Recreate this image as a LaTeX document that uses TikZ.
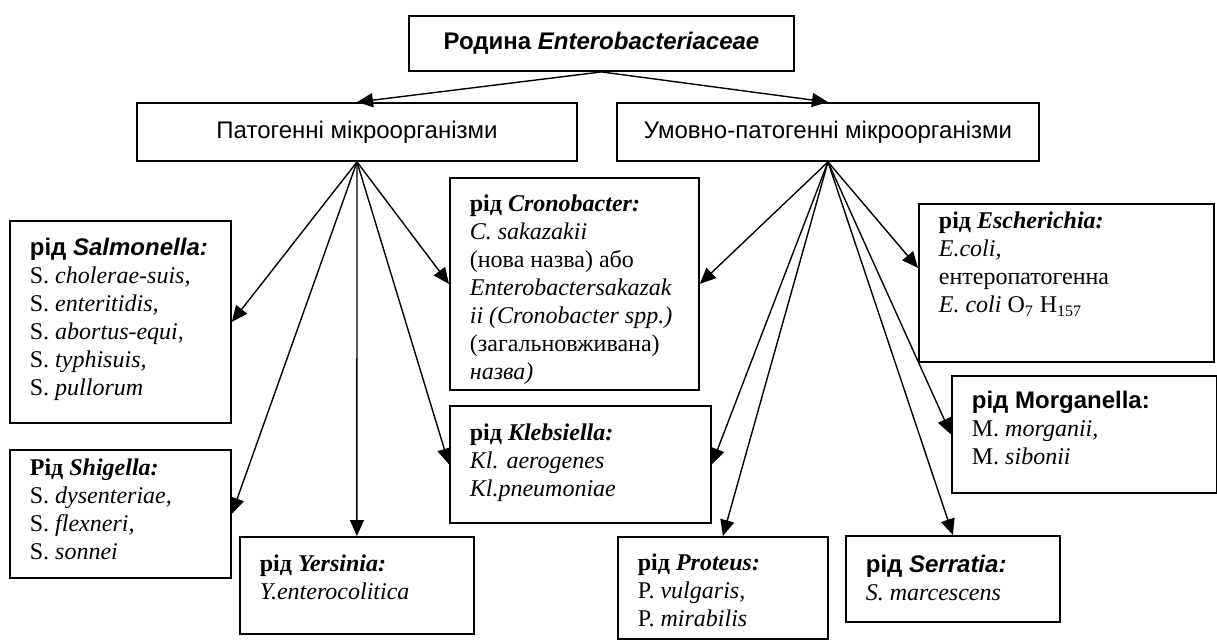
\documentclass[tikz,border=0pt]{standalone}
\usepackage{fontspec}
\setmainfont{Liberation Serif}
\setsansfont{Liberation Sans}
\usepackage{tikz}
\usetikzlibrary{arrows.meta}
\usetikzlibrary{positioning}
\newcommand{\gbox}[6][8.5pt]{\node(#2)[genus] at (#3) {\parbox[c][#5][t]{#4}{\vspace*{#1}\raggedright\leftskip=10pt\relax #6}}}

\begin{document}
\begin{tikzpicture}[
        x=0.5pt, y=-0.5pt,
        every node/.style={font=\fontsize{12}{14}\selectfont},
        group/.style={rectangle,draw=black,line width=0.9pt,inner sep=0pt,
                      minimum height=29pt,font=\sffamily\fontsize{12}{14}\selectfont},
        genus/.style={rectangle,draw=black,line width=0.9pt,inner sep=0pt,anchor=north west},
        link/.style={-{Triangle[length=8pt,width=7pt]},line width=0.7pt}
      ]
      \useasboundingbox (0,0) rectangle (1217,639);
      \node(fam)[group,minimum width=192.5pt,minimum height=27.5pt] at (601.5,43.5) {\bfseries Родина \textit{Enterobacteriaceae}};
      \node(path)[group,minimum width=220pt] at (357,132) {Патогенні мікроорганізми};
      \node(cond)[group,minimum width=211pt] at (828,132) {Умовно-патогенні мікроорганізми};

      \gbox{salm}{9,220}{110.5pt}{101pt}{{\sffamily\bfseries рід \textit{Salmonella:}}\\ S. \textit{cholerae-suis,}\\ S. \textit{enteritidis,}\\ S. \textit{abortus-equi,}\\ S. \textit{typhisuis,}\\ S. \textit{pullorum}};
      \gbox[4.5pt]{shig}{9,449}{110.5pt}{64pt}{{\bfseries Рід \textit{Shigella:}}\\ S. \textit{dysenteriae,}\\ S. \textit{flexneri,}\\ S. \textit{sonnei}};
      \gbox[9pt]{yers}{239,536}{117pt}{48.5pt}{{\bfseries рід \textit{Yersinia:}}\\ \textit{Y.enterocolitica}};
      \gbox{cron}{449,177}{124.5pt}{106pt}{{\bfseries рід \textit{Cronobacter:}}\\ \textit{C. sakazakii}\\ (нова назва) або\\ \textit{Enterobactersakazak}\\ \textit{ii (Cronobacter spp.)}\\ (загальновживана)\\ \textit{назва)}};
      \gbox[9pt]{kleb}{449,405}{130.5pt}{58.5pt}{{\bfseries рід \textit{Klebsiella:}}\\ \textit{Kl. aerogenes}\\ \textit{Kl.pneumoniae}};
      \gbox[4pt]{esch}{918,203}{147.5pt}{79pt}{{\bfseries рід \textit{Escherichia:}}\\ \textit{E.coli,}\\ ентеропатогенна\\ \textit{E. coli} O\textsubscript{7} H\textsubscript{157}};
      \gbox[7.5pt]{morg}{951,375}{132.5pt}{58.5pt}{{\sffamily\bfseries рід Morganella:}\\ M. \textit{morganii,}\\ M. \textit{sibonii}};
      \gbox{prot}{617,536}{105pt}{51pt}{{\bfseries рід \textit{Proteus:}}\\ P. \textit{vulgaris,}\\ P. \textit{mirabilis}};
      \gbox[9.5pt]{serr}{845,535}{107pt}{43pt}{{\sffamily\bfseries рід \textit{Serratia:}}\\ \textit{S. marcescens}};

      \draw[link] (fam.south) -- (path.north);
      \draw[link] (fam.south) -- (cond.north);
      \foreach \g in {salm.east,shig.east,yers.north,cron.west,kleb.west}
        \draw[link] (path.south) -- (\g);
      \foreach \g in {cron.east,kleb.east,prot.north,serr.north,morg.west}
        \draw[link] (cond.south) -- (\g);
      \draw[link] (cond.south) -- ([yshift=7.5pt]esch.west);
\end{tikzpicture}
\end{document}
